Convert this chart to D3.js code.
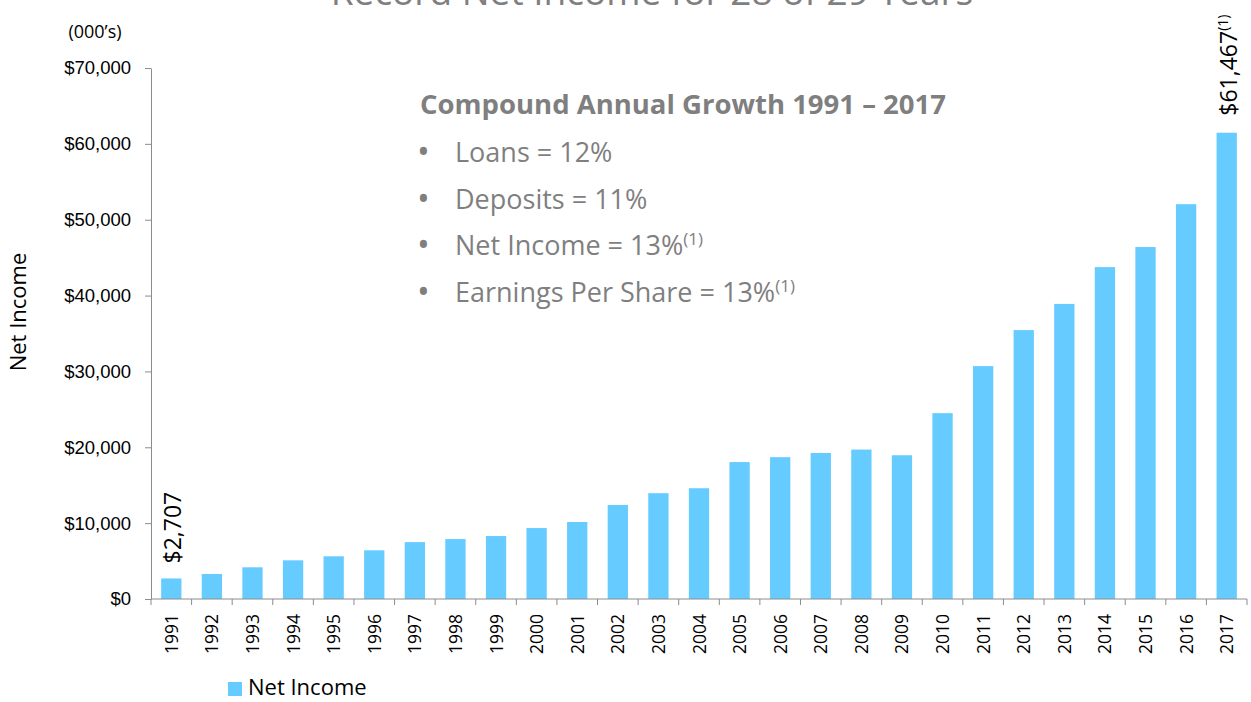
<!DOCTYPE html>
<html>
<head>
<meta charset="utf-8">
<script src="https://cdn.jsdelivr.net/npm/d3@7"></script>
<style>
  body { margin: 0; background: #fff; }
  svg { display: block; font-family: "Open Sans", sans-serif; }
</style>
</head>
<body>
<svg id="chart" width="1251" height="702"></svg>
<script>
const years = ['1991','1992','1993','1994','1995','1996','1997','1998','1999','2000',
  '2001','2002','2003','2004','2005','2006','2007','2008','2009','2010',
  '2011','2012','2013','2014','2015','2016','2017'];
const netIncome = [2707, 3300, 4180, 5100, 5630, 6420, 7500, 7900, 8300, 9350,
  10150, 12400, 13950, 14600, 18050, 18700, 19250, 19700, 18950, 24500,
  30700, 35450, 38900, 43750, 46400, 52050, 61467];
const yTicks = [0, 10000, 20000, 30000, 40000, 50000, 60000, 70000];
const growthTitle = 'Compound Annual Growth 1991 \u2013 2017';
const growthItems = [
  { text: 'Loans = 12%', note: '' },
  { text: 'Deposits = 11%', note: '' },
  { text: 'Net Income = 13%', note: '(1)' },
  { text: 'Earnings Per Share = 13%', note: '(1)' }
];

const svg = d3.select('#chart');
const axisColor = '#8c8c8c';
const grey = '#7f7f7f';
const barColor = '#66ccff';

const x = d3.scaleBand().domain(years).range([151, 1247]).paddingInner(0.5).paddingOuter(0.25);
const y = d3.scaleLinear().domain([0, 70000]).range([599, 68]);

// title (cut off at the top in the original)
svg.append('text')
  .attr('x', 652).attr('y', 5)
  .attr('text-anchor', 'middle')
  .style('font-size', '37px')
  .style('fill', grey)
  .text('Record Net Income for 28 of 29 Years');

svg.append('text')
  .attr('x', 95).attr('y', 38)
  .attr('text-anchor', 'middle')
  .style('font-size', '18px')
  .text('(000\u2019s)');

svg.append('text')
  .attr('transform', 'translate(26,312) rotate(-90)')
  .attr('text-anchor', 'middle')
  .style('font-size', '22px')
  .text('Net Income');

// y axis
const fmt = d3.format(',');
const yAxis = svg.append('g')
  .attr('transform', 'translate(151,0)')
  .call(d3.axisLeft(y).tickValues(yTicks).tickSize(6).tickSizeOuter(0).tickPadding(14)
    .tickFormat(d => '$' + fmt(d)));
yAxis.select('.domain').attr('stroke', axisColor);
yAxis.selectAll('line').attr('stroke', axisColor);
yAxis.selectAll('text').style('font-size', '18.5px').style('font-family', null).attr('fill', '#000');

// bars
svg.selectAll('rect.bar')
  .data(years)
  .enter().append('rect')
  .attr('class', 'bar')
  .attr('x', d => x(d))
  .attr('width', x.bandwidth())
  .attr('y', (d, i) => y(netIncome[i]))
  .attr('height', (d, i) => y(0) - y(netIncome[i]))
  .attr('fill', barColor);

// x axis with ticks at band boundaries
const boundaries = d3.range(years.length + 1).map(i => 151 + i * (1247 - 151) / years.length);
const xg = svg.append('g');
xg.append('line')
  .attr('x1', 151).attr('x2', 1247)
  .attr('y1', y(0)).attr('y2', y(0))
  .attr('stroke', axisColor);
xg.selectAll('line.tick')
  .data(boundaries)
  .enter().append('line')
  .attr('class', 'tick')
  .attr('x1', d => d).attr('x2', d => d)
  .attr('y1', y(0)).attr('y2', y(0) + 6)
  .attr('stroke', axisColor);
xg.selectAll('text')
  .data(years)
  .enter().append('text')
  .attr('transform', d => `translate(${x(d) + x.bandwidth() / 2 + 6.5},${y(0) + 15}) rotate(-90)`)
  .attr('text-anchor', 'end')
  .style('font-size', '17.5px')
  .text(d => d);

// data labels on first and last bars
const first = years[0], last = years[years.length - 1];
svg.append('text')
  .attr('transform', `translate(${x(first) + x.bandwidth() / 2 + 10},${y(netIncome[0]) - 15}) rotate(-90)`)
  .style('font-size', '23px')
  .text('$' + fmt(netIncome[0]));
const lastLabel = svg.append('text')
  .attr('transform', `translate(${x(last) + x.bandwidth() / 2 + 10},${y(netIncome[netIncome.length - 1]) - 17}) rotate(-90)`)
  .style('font-size', '23px');
lastLabel.append('tspan').text('$' + fmt(netIncome[netIncome.length - 1]));
lastLabel.append('tspan').attr('dy', -9).style('font-size', '14px').text('(1)');

// growth annotation
svg.append('text')
  .attr('x', 420).attr('y', 114)
  .style('font-size', '27.5px')
  .style('font-weight', 'bold')
  .style('fill', grey)
  .text(growthTitle);
const items = svg.selectAll('g.item')
  .data(growthItems)
  .enter().append('g')
  .attr('class', 'item')
  .attr('transform', (d, i) => `translate(0,${162 + i * 46.5})`);
items.append('text')
  .attr('x', 417)
  .attr('y', 2)
  .style('font-size', '34px')
  .style('fill', grey)
  .text('\u2022');
const itemText = items.append('text')
  .attr('x', 455)
  .style('font-size', '27px')
  .style('fill', grey);
itemText.append('tspan').text(d => d.text);
itemText.append('tspan')
  .attr('dy', -10)
  .style('font-size', '17px')
  .text(d => d.note);

// legend
svg.append('rect')
  .attr('x', 228).attr('y', 682).attr('width', 14).attr('height', 14)
  .attr('fill', barColor);
svg.append('text')
  .attr('x', 248).attr('y', 695)
  .style('font-size', '22px')
  .text('Net Income');
</script>
</body>
</html>
